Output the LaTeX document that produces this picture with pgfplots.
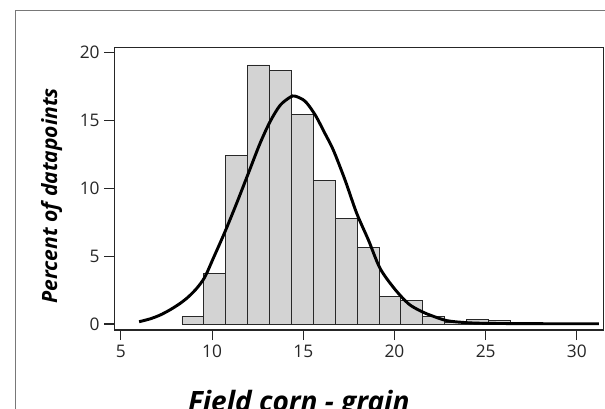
\documentclass[border=0pt]{standalone}
\usepackage{fontspec}
\setmainfont{Open Sans}
\usepackage{pgfplots}
\pgfplotsset{compat=1.18}
\definecolor{barfill}{RGB}{211,211,211}
\definecolor{baredge}{RGB}{40,40,40}
\definecolor{framegray}{RGB}{120,120,120}

\begin{document}
\begin{tikzpicture}[x=0.75pt,y=0.75pt]
\useasboundingbox (0,0) rectangle (605,408);
% outer panel frame (cropped on right and bottom)
\draw[framegray, line width=1.3pt] (15.4,-10) -- (15.4,397.5) -- (620,397.5);
\begin{axis}[
  at={(85.725pt,58.5pt)}, anchor=south west,
  scale only axis,
  width=366.9pt, height=211.7pt,
  xmin=4.64, xmax=31.46, ymin=-0.44, ymax=20.34,
  xtick={5,10,15,20,25,30}, ytick={0,5,10,15,20},
  xtick pos=bottom, ytick pos=left,
  tick align=outside,
  major tick length=7.5pt,
  axis line style={black!85, line width=0.8pt},
  tick style={black!85, line width=0.8pt},
  /pgf/number format/assume math mode=true,
  tick label style={font=\fontsize{13}{15}\selectfont, text=black!85},
  ylabel={Percent of datapoints},
  ylabel style={font=\fontsize{15.8}{18}\selectfont\bfseries\itshape, at={(axis description cs:-0.128,0.475)}, anchor=center},
  xlabel={Field corn - grain},
  xlabel style={font=\fontsize{21}{24}\selectfont\bfseries\itshape, at={(axis description cs:0.377,-0.29)}, anchor=base},
]
\addplot[ybar interval, fill=barfill, draw=baredge, line width=0.7pt] coordinates {
  (8.35,0.54) (9.55,3.73) (10.75,12.44) (11.95,19.07) (13.15,18.68)
  (14.35,15.44) (15.55,10.58) (16.75,7.78) (17.95,5.65) (19.15,2.03)
  (20.35,1.76) (21.55,0.54) (22.75,0.15) (23.95,0.34) (25.15,0.26)
  (26.35,0.10) (27.55,0)
};
\addplot[black, line width=2.2pt, smooth, tension=0.5] coordinates {
  (6.0,0.17) (6.6,0.38) (7.15,0.66) (7.7,1.05) (8.25,1.52) (8.7,2.0)
  (9.16,2.63) (9.6,3.45) (10.07,4.85) (10.71,6.8) (11.35,8.9) (11.99,11.1)
  (12.63,13.3) (13.18,14.9) (13.73,16.1) (14.28,16.7) (14.55,16.78)
  (15.1,16.4) (15.65,15.4) (16.2,14.0) (16.65,12.8) (17.29,10.6)
  (17.93,8.15) (18.57,6.19) (19.21,4.1) (20.0,2.6) (20.76,1.5)
  (21.4,0.98) (21.95,0.66) (22.87,0.25) (23.96,0.1) (25.0,0.05)
  (27.0,0.03) (29.0,0.02) (31.2,0.02)
};
\end{axis}
\end{tikzpicture}
\end{document}
